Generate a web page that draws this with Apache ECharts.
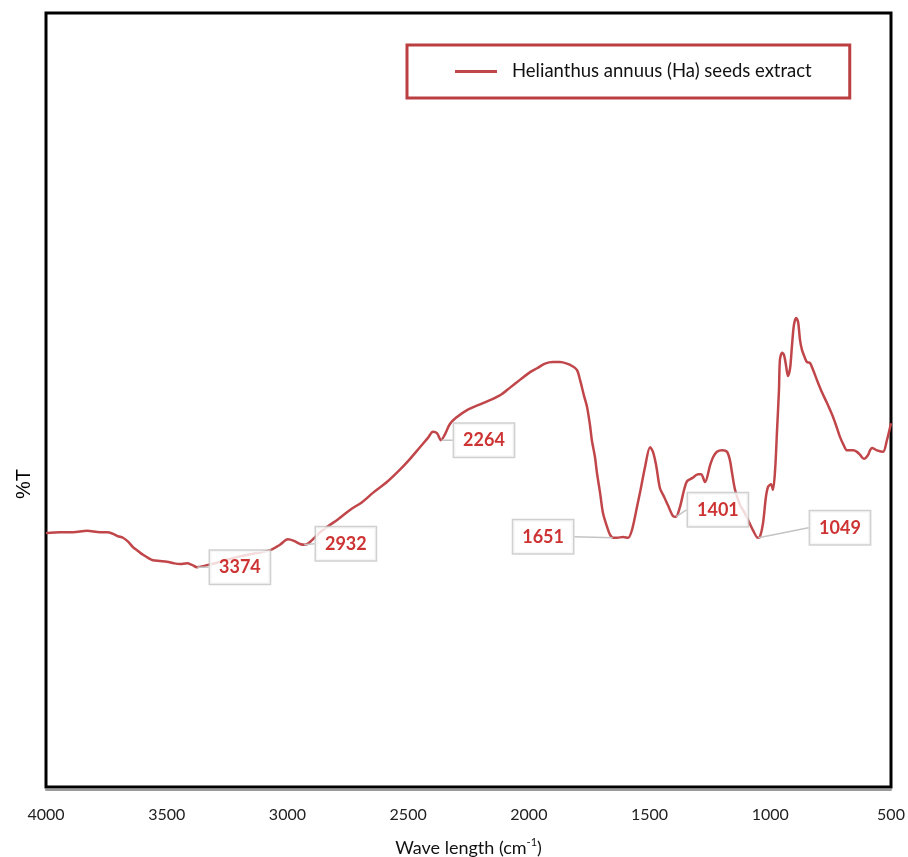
<!DOCTYPE html>
<html>
<head>
<meta charset="utf-8">
<script src="https://cdn.jsdelivr.net/npm/echarts@6/dist/echarts.min.js"></script>
<style>html,body{margin:0;padding:0;background:#fff;}#c{width:908px;height:857px;}</style>
</head>
<body>
<div id="c"></div>
<script>
// ---- data ----
const seriesName = 'Helianthus annuus (Ha) seeds extract';
const wavenumbers = [4000,3942,3888,3830,3776,3747,3722,3702,3681,3660,3640,3619,3598,3577,3557,3528,3499,3470,3445,3416,3395,3375,3341,3300,3259,3196,3134,3072,3031,2998,2973,2948,2927,2898,2865,2836,2790,2741,2691,2646,2588,2534,2492,2451,2418,2397,2380,2364,2347,2327,2302,2256,2190,2120,2078,2037,1995,1966,1933,1900,1871,1842,1821,1801,1788,1772,1759,1747,1739,1726,1718,1705,1693,1676,1664,1651,1635,1610,1589,1573,1552,1536,1519,1498,1486,1473,1457,1440,1424,1403,1391,1374,1357,1345,1324,1299,1287,1270,1250,1237,1221,1200,1179,1167,1159,1146,1125,1113,1092,1072,1051,1043,1030,1018,1009,997,989,980,972,964,960,951,943,935,927,918,910,902,893,885,877,869,856,848,836,823,807,786,765,740,724,711,695,682,657,641,628,612,595,587,579,558,533,517,500];
const transmittance = [32.8,32.9,32.9,33.1,32.9,32.9,32.7,32.4,32.2,31.7,31.0,30.5,30.0,29.6,29.3,29.2,29.1,28.9,28.8,28.9,28.7,28.4,28.6,28.9,29.3,29.8,30.2,30.6,31.3,32.0,31.8,31.4,31.3,31.9,32.9,33.6,34.6,35.8,36.8,38.0,39.4,41.0,42.4,43.9,45.1,45.9,45.7,44.8,45.6,46.9,47.7,48.7,49.6,50.6,51.6,52.6,53.6,54.1,54.7,54.9,54.9,54.7,54.4,53.9,52.6,50.6,49.1,46.8,44.8,42.6,40.6,38.0,35.4,33.6,32.6,32.2,32.2,32.3,32.2,33.2,36.2,38.6,41.3,43.9,43.3,41.6,38.6,37.5,36.4,35.0,34.9,36.2,38.4,39.5,39.9,40.4,40.4,39.4,41.5,42.6,43.3,43.5,43.3,42.2,40.7,38.4,36.4,35.8,34.5,33.2,32.2,32.3,34.1,37.5,38.8,39.1,38.4,41.0,46.1,51.3,55.2,56.1,55.8,54.5,53.1,54.1,57.1,59.7,60.6,60.1,57.8,56.5,55.4,54.9,54.8,53.9,52.6,51.0,49.6,47.8,46.4,45.2,44.1,43.5,43.5,43.3,42.9,42.4,42.9,43.5,43.8,43.5,43.3,44.8,47.0];
const peakLabels = ['3374','2932','2264','1651','1401','1049'];
const peakWavenumbers = [3375, 2932, 2364, 1651, 1391, 1051];
const peakTransmittance = [28.4, 31.3, 44.8, 32.2, 34.9, 32.2];
const xMin = 500, xMax = 4000, xInterval = 500;

// ---- build ----
const lineData = wavenumbers.map((w, i) => [w, transmittance[i]]);
const peakData = peakLabels.map((l, i) => ({ name: l, value: [peakWavenumbers[i], peakTransmittance[i]] }));
const calloutOffsets = [[43, 0], [42, -1], [43, 0], [-70, -1], [42, -7], [82, -10]];
const red = '#c0464a';

const chart = echarts.init(document.getElementById('c'), null, { renderer: 'canvas' });
chart.setOption({
  backgroundColor: '#ffffff',
  animation: false,
  textStyle: { fontFamily: 'Lato, "Open Sans", sans-serif' },
  grid: { left: 46, right: 17, top: 13, bottom: 70, show: true, borderColor: '#000', borderWidth: 3, backgroundColor: '#fff', outerBoundsMode: 'none', containLabel: false },
  legend: {
    data: [seriesName],
    left: 407, top: 45,
    icon: 'rect', itemWidth: 42, itemHeight: 3,
    padding: [17, 38, 17, 48],
    borderColor: '#bb3e40', borderWidth: 3, backgroundColor: '#fff',
    textStyle: { fontSize: 18.5, color: '#111', padding: [0, 0, 0, 10] }
  },
  xAxis: {
    type: 'value', min: xMin, max: xMax, interval: xInterval, inverse: true,
    axisLine: { show: true, onZero: false, lineStyle: { color: '#9a9a9a', width: 2 } }, offset: 3,
    axisTick: { show: false }, splitLine: { show: false },
    axisLabel: { fontSize: 16, color: '#222', margin: 17, fontFamily: 'Lato', formatter: v => String(v) },
    name: 'Wave length (cm{sup|-1})', nameLocation: 'middle', nameGap: 47,
    nameTextStyle: { fontSize: 18, color: '#111', fontFamily: 'Lato', lineHeight: 22,
      rich: { sup: { fontSize: 11, fontFamily: 'Lato', color: '#111', verticalAlign: 'top', lineHeight: 12 } } }
  },
  yAxis: {
    type: 'value', min: 0, max: 100,
    axisLine: { show: false }, axisTick: { show: false }, splitLine: { show: false }, axisLabel: { show: false },
    name: '%T', nameLocation: 'middle', nameGap: 12,
    nameTextStyle: { fontSize: 20, color: '#000', fontFamily: 'Liberation Sans', padding: [0, 168, 0, 0] }
  },
  series: [
    {
      name: seriesName, type: 'line', data: lineData, showSymbol: false, smooth: 0.3,
      lineStyle: { color: red, width: 2.5 }, itemStyle: { color: red }, z: 3
    },
    {
      name: 'peaks', type: 'scatter', data: peakData, symbolSize: 1,
      itemStyle: { color: 'rgba(0,0,0,0)' }, z: 5,
      label: {
        show: true, position: 'inside', formatter: '{b}',
        fontSize: 18, fontWeight: 'bold', color: '#c00000', fontFamily: 'Lato',
        backgroundColor: '#fff', borderColor: '#c4c4c4', borderWidth: 1.5, padding: [8, 9, 7, 9]
      },
      labelLine: { show: true, lineStyle: { color: '#c4c4c4', width: 1.5 } },
      labelLayout: function (p) { const o = calloutOffsets[p.dataIndex]; return { dx: o[0], dy: o[1] }; }
    }
  ]
});
</script>
</body>
</html>
